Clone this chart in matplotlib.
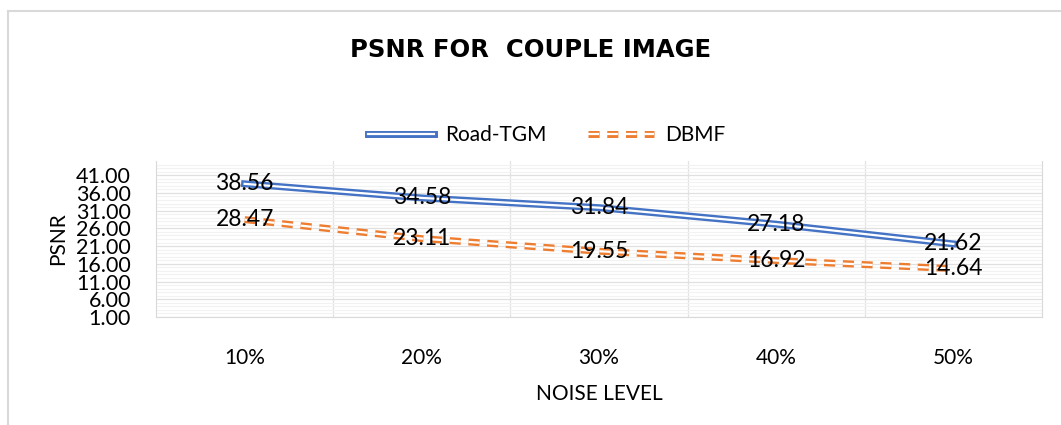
import matplotlib.pyplot as plt
import matplotlib.patheffects as pe
from matplotlib.lines import Line2D
import numpy as np

# данные с картинки
noise_levels = ['10%', '20%', '30%', '40%', '50%']
road_tgm = [38.56, 34.58, 31.84, 27.18, 21.62]
dbmf = [28.47, 23.11, 19.55, 16.92, 14.64]

blue = '#4472C4'
orange = '#ED7D31'

plt.rcParams['font.family'] = ['Lato', 'DejaVu Sans']

fig = plt.figure(figsize=(10.61, 4.25), dpi=100)
ax = fig.add_axes([156 / 1061, 1 - 317 / 425, (1042 - 156) / 1061, (317 - 161) / 425])

x = np.arange(len(noise_levels))

def double(color):
    return [pe.Stroke(linewidth=5.0, foreground=color),
            pe.Stroke(linewidth=1.6, foreground='white')]

ax.plot(x, road_tgm, color=blue, lw=5.0, path_effects=double(blue),
        label='Road-TGM', zorder=3)
ax.plot(x, dbmf, color=orange, lw=5.0, linestyle=(0, (1.6, 1.1)),
        path_effects=double(orange), label='DBMF', zorder=3)

for xi, v in zip(x, road_tgm):
    ax.text(xi, v, f'{v:.2f}', ha='center', va='center', fontsize=16.5, zorder=4)
for xi, v in zip(x, dbmf):
    ax.text(xi, v, f'{v:.2f}', ha='center', va='center', fontsize=16.5, zorder=4)

ax.set_xlim(-0.5, len(noise_levels) - 0.5)
ax.set_ylim(1, 45)
ax.set_xticks(x)
ax.set_xticklabels(noise_levels, fontsize=15)
ax.set_yticks(np.arange(1, 42, 5))
ax.set_yticklabels([f'{t:.2f}' for t in np.arange(1, 42, 5)], fontsize=15.5)
ax.set_yticks(np.arange(1, 45, 1), minor=True)
ax.set_xticks(np.arange(0.5, len(noise_levels) - 0.5, 1), minor=True)
ax.tick_params(axis='both', which='both', length=0)
ax.tick_params(axis='y', pad=18)
ax.tick_params(axis='x', pad=22)

ax.grid(True, axis='y', which='minor', color='#f2f2f2', lw=0.8, zorder=0)
ax.grid(True, axis='y', which='major', color='#e0e0e0', lw=0.9, zorder=0)
ax.grid(True, axis='x', which='minor', color='#e3e3e3', lw=0.9, zorder=0)
for s in ['left', 'bottom', 'right']:
    ax.spines[s].set_color('#d9d9d9')
ax.spines['top'].set_visible(False)

ax.set_xlabel('NOISE LEVEL', fontsize=15, labelpad=12)
ax.set_ylabel('PSNR', fontsize=15, labelpad=6)

fig.text(0.5, 1 - 50 / 425, 'PSNR FOR  COUPLE IMAGE', ha='center', va='center',
         fontsize=17.5, fontweight='bold', family=['DejaVu Sans'])

fig.legend(loc='center', bbox_to_anchor=(0.515, 1 - 135 / 425), ncol=2,
           frameon=False, fontsize=15, handlelength=3.2, columnspacing=2.0,
           handletextpad=0.5)

# рамка диаграммы
fig.add_artist(Line2D([8 / 1061, 8 / 1061], [0, 1 - 11 / 425], transform=fig.transFigure,
                      color='#d9d9d9', lw=1.5))
fig.add_artist(Line2D([8 / 1061, 1], [1 - 11 / 425, 1 - 11 / 425], transform=fig.transFigure,
                      color='#d9d9d9', lw=1.5))

fig.savefig('out.png', dpi=100)
